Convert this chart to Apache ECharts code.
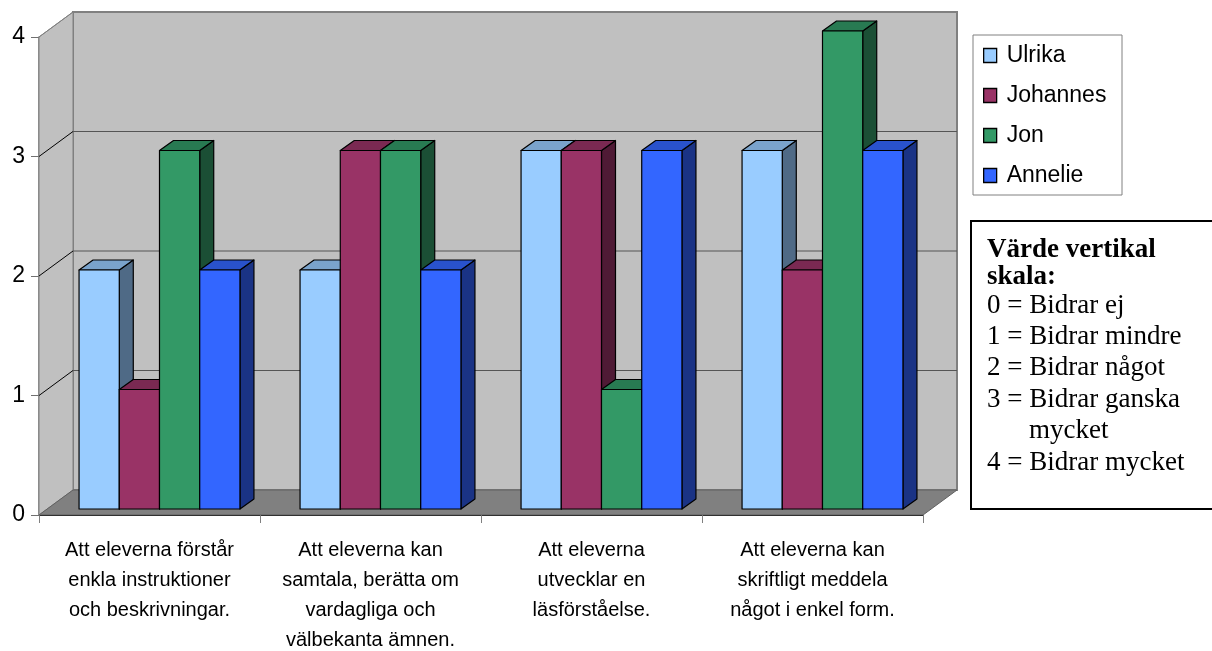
<!DOCTYPE html>
<html>
<head>
<meta charset="utf-8">
<script src="https://cdn.jsdelivr.net/npm/echarts@6/dist/echarts.min.js"></script>
<style>
  html, body { margin: 0; padding: 0; background: #fff; }
  #main { width: 1212px; height: 651px; }
</style>
</head>
<body>
<div id="main"></div>
<script>
var categories = [
  'Att eleverna förstår\nenkla instruktioner\noch beskrivningar.',
  'Att eleverna kan\nsamtala, berätta om\nvardagliga och\nvälbekanta ämnen.',
  'Att eleverna\nutvecklar en\nläsförståelse.',
  'Att eleverna kan\nskriftligt meddela\nnågot i enkel form.'
]
var names = ['Ulrika', 'Johannes', 'Jon', 'Annelie']
var ulrika = [2, 2, 3, 3]
var johannes = [1, 3, 3, 2]
var jon = [3, 3, 1, 4]
var annelie = [2, 2, 3, 3]
var yTicks = [1, 2, 3, 4]
var noteTitle = ['Värde vertikal', 'skala:']
var scaleNotes = ['0 = Bidrar ej', '1 = Bidrar mindre', '2 = Bidrar något', '3 = Bidrar ganska', 'mycket', '4 = Bidrar mycket']

// front / top / side shades for each person
var shades = [
  ['#99ccff', '#7aa3cc', '#4f6a86'],
  ['#993366', '#7a2952', '#4f1a35'],
  ['#339966', '#287a52', '#1b4f35'],
  ['#3366ff', '#2952cc', '#1a3385']
]

var depth = [34, -25]     // floor depth
var barOff = [10, -6]     // bar front offset from front plane
var barDepth = [14, -10]

var chart = echarts.init(document.getElementById('main'))

function walls(params, api) {
  var cs = params.coordSys
  var x0 = cs.x, x1 = cs.x + cs.width
  var yTop = cs.y, yBot = cs.y + cs.height
  var dx = depth[0], dy = depth[1]
  var kids = []
  // back wall
  kids.push({ type: 'polygon', shape: { points: [[x0 + dx, yTop + dy], [x1 + dx, yTop + dy], [x1 + dx, yBot + dy], [x0 + dx, yBot + dy]] },
    style: { fill: '#c0c0c0', stroke: '#808080', lineWidth: 2 } })
  // left wall
  kids.push({ type: 'polygon', shape: { points: [[x0, yTop], [x0 + dx, yTop + dy], [x0 + dx, yBot + dy], [x0, yBot]] },
    style: { fill: '#c0c0c0', stroke: '#808080', lineWidth: 1 } })
  // floor
  kids.push({ type: 'polygon', shape: { points: [[x0, yBot], [x0 + dx, yBot + dy], [x1 + dx, yBot + dy], [x1, yBot]] },
    style: { fill: '#808080', stroke: '#606060', lineWidth: 1 } })
  yTicks.forEach(function (v) {
    var y = api.coord([0, v])[1]
    if (v < 4) {
      kids.push({ type: 'line', shape: { x1: x0 + dx, y1: y + dy, x2: x1 + dx, y2: y + dy }, style: { stroke: '#555', lineWidth: 1 } })
    }
    kids.push({ type: 'line', shape: { x1: x0, y1: y, x2: x0 + dx, y2: y + dy }, style: { stroke: v < 4 ? '#000' : '#808080', lineWidth: 1 } })
  })
  return { type: 'group', children: kids }
}

function barMaker(s) {
  return function (params, api) {
    var c = api.value(0), v = api.value(1)
    var base = api.coord([c, 0])
    var top = api.coord([c, v])
    var catW = api.size([1, 0])[0]
    var w = catW * 0.182
    var x0 = base[0] - 2 * w + barOff[0] + s * w
    var x1 = x0 + w
    var y0 = base[1] + barOff[1]
    var y1 = top[1] + barOff[1]
    var dx = barDepth[0], dy = barDepth[1]
    var col = shades[s]
    var line = { stroke: '#000', lineWidth: 1.2, lineJoin: 'round' }
    return {
      type: 'group',
      children: [
        { type: 'polygon', shape: { points: [[x1, y1], [x1 + dx, y1 + dy], [x1 + dx, y0 + dy], [x1, y0]] },
          style: Object.assign({ fill: col[2] }, line) },
        { type: 'polygon', shape: { points: [[x0, y1], [x0 + dx, y1 + dy], [x1 + dx, y1 + dy], [x1, y1]] },
          style: Object.assign({ fill: col[1] }, line) },
        { type: 'rect', shape: { x: x0, y: y1, width: w, height: y0 - y1 },
          style: Object.assign({ fill: col[0] }, line) }
      ]
    }
  }
}

var dataSets = [ulrika, johannes, jon, annelie]
var series = [{
  type: 'custom',
  silent: true,
  renderItem: walls,
  data: [[0, 0]],
  z: 1
}]
dataSets.forEach(function (arr, s) {
  series.push({
    name: names[s],
    type: 'custom',
    renderItem: barMaker(s),
    itemStyle: { color: shades[s][0] },
    encode: { x: 0, y: 1 },
    data: arr.map(function (v, i) { return [i, v] }),
    z: 2
  })
})

var noteTexts = []
var titleY = [250, 277]
noteTitle.forEach(function (t, i) {
  noteTexts.push({ type: 'text', x: 987, y: titleY[i],
    style: { text: t, font: 'bold 27px "Liberation Serif"', fill: '#000', verticalAlign: 'middle' } })
})
var noteY = [306, 337, 368, 400, 431, 463]
scaleNotes.forEach(function (t, i) {
  noteTexts.push({ type: 'text', x: t === 'mycket' ? 1029 : 987, y: noteY[i],
    style: { text: t, font: '27px "Liberation Serif"', fill: '#000', verticalAlign: 'middle' } })
})

chart.setOption({
  animation: false,
  textStyle: { fontFamily: 'Liberation Sans' },
  grid: { left: 39, top: 37, width: 884, height: 478, containLabel: false, outerBoundsMode: 'none' },
  legend: {
    orient: 'vertical',
    left: 983, top: 44,
    padding: 0,
    data: names,
    icon: 'rect',
    itemWidth: 13, itemHeight: 14, itemGap: 17,
    itemStyle: { borderColor: '#000', borderWidth: 1.3 },
    textStyle: { fontSize: 23, lineHeight: 20, color: '#000', padding: [0, 0, 0, 5], fontFamily: 'Liberation Sans' },
    selectedMode: false
  },
  xAxis: {
    type: 'category',
    data: categories,
    axisLine: { lineStyle: { color: '#000', width: 1 } },
    axisTick: { show: true, length: 8, lineStyle: { color: '#808080' } },
    axisLabel: { color: '#000', fontSize: 20, lineHeight: 30, margin: 20, interval: 0 },
    splitLine: { show: false }
  },
  yAxis: {
    type: 'value',
    min: 0, max: 4, interval: 1,
    axisLine: { show: true, lineStyle: { color: '#707070', width: 1.5 } },
    axisTick: { show: true, length: 8, lineStyle: { color: '#707070' } },
    axisLabel: { color: '#000', fontSize: 23, margin: 14 },
    splitLine: { show: false }
  },
  graphic: [
    { type: 'rect', shape: { x: 973, y: 35, width: 149, height: 160 }, style: { fill: '#fff', stroke: '#808080', lineWidth: 1 }, z: -1 },
    { type: 'rect', shape: { x: 971, y: 221, width: 260, height: 288 }, style: { fill: '#fff', stroke: '#000', lineWidth: 2 } }
  ].concat(noteTexts),
  series: series
})
</script>
</body>
</html>
